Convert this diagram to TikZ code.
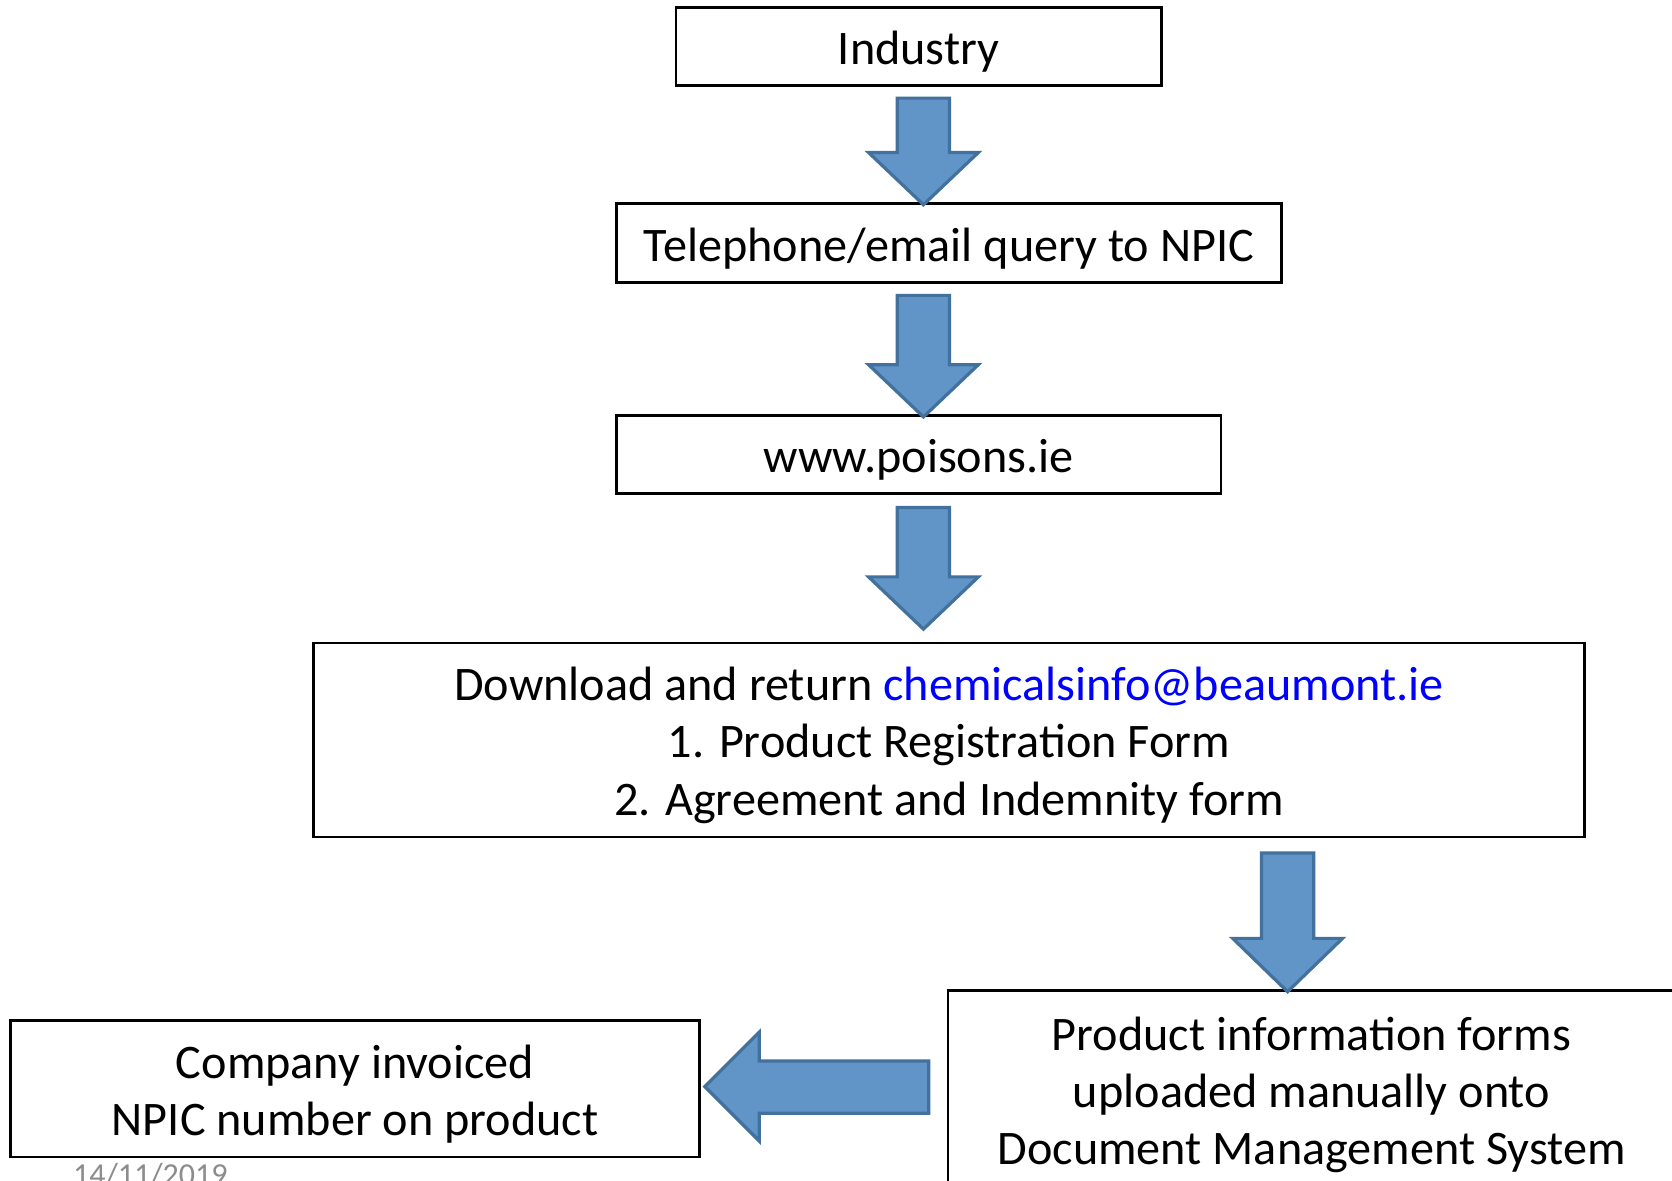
\documentclass[tikz,border=0pt]{standalone}
\usepackage{fontspec}
\setmainfont{Carlito}
\usetikzlibrary{calc}
\definecolor{arrfill}{HTML}{6195C8}
\definecolor{arrline}{HTML}{41719C}
\definecolor{maillink}{HTML}{0000FF}
\definecolor{dategray}{HTML}{8C8C8C}
\def\u{0.5332pt}
\newcommand\blockdown[4]{%
  \draw[blockarrow] (#1-24.5,#2) -- (#1+24.5,#2) -- (#1+24.5,#3) -- (#1+51.5,#3)
    -- (#1,#4) -- (#1-51.5,#3) -- (#1-24.5,#3) -- cycle;}
\begin{document}
\begin{tikzpicture}[x=0.5332pt,y=-0.5332pt,
  box/.style={draw=black,line width=1.4pt,inner sep=0pt},
  txt/.style={inner sep=0pt,align=center,font=\fontsize{24.1}{28.6}\selectfont},
  blockarrow/.style={fill=arrfill,draw=arrline,line width=1.6pt,line join=miter}]
\useasboundingbox (0,0) rectangle (1568,1107);
\clip (0,0) rectangle (1568,1107);
\fill[white] (0,0) rectangle (1568,1107);

\node[box,minimum width=455*\u,minimum height=73*\u] (ind) at (861.5,43.5) {};
\node[txt] (indt) at ($(ind.center)+(0,5)$) {Industry};
\node[box,minimum width=624*\u,minimum height=74*\u] (tel) at (890,228) {};
\node[txt] (telt) at ($(tel.center)+(0,5)$) {Telephone/email query to NPIC};
\node[box,minimum width=567*\u,minimum height=73*\u] (www) at (861.5,426.5) {};
\node[txt] (wwwt) at ($(www.center)+(0,5)$) {www.poisons.ie};
\node[box,minimum width=1192*\u,minimum height=182*\u] (dl) at (890,694) {};
\node[txt] (dlt) at ($(dl.center)+(0,5)$)
  {Download and return {\color{maillink}chemicalsinfo@beaumont.ie}\\1. Product Registration Form\\2. Agreement and Indemnity form};
\node[box,minimum width=682*\u,minimum height=186*\u] (prod) at (1230,1022) {};
\node[txt] (prodt) at ($(prod.center)+(0,5)$)
  {Product information forms\\uploaded manually onto\\Document Management System};
\node[box,minimum width=646*\u,minimum height=128*\u] (comp) at (333,1021) {};
\node[txt] (compt) at ($(comp.center)+(0,5)$)
  {Company invoiced\\NPIC number on product};
\node[anchor=base,text=dategray,font=\fontsize{16}{19}\selectfont,inner sep=0pt] (date) at (141,1112) {14/11/2019};

\blockdown{866}{92}{143}{192}
\blockdown{866}{277}{342}{391}
\blockdown{866}{476}{541}{590}
\blockdown{1207.5}{800}{880}{930}
\draw[blockarrow] (871,995) -- (712,995) -- (712,968) -- (661,1019) -- (712,1070)
  -- (712,1044) -- (871,1044) -- cycle;
\end{tikzpicture}
\end{document}
